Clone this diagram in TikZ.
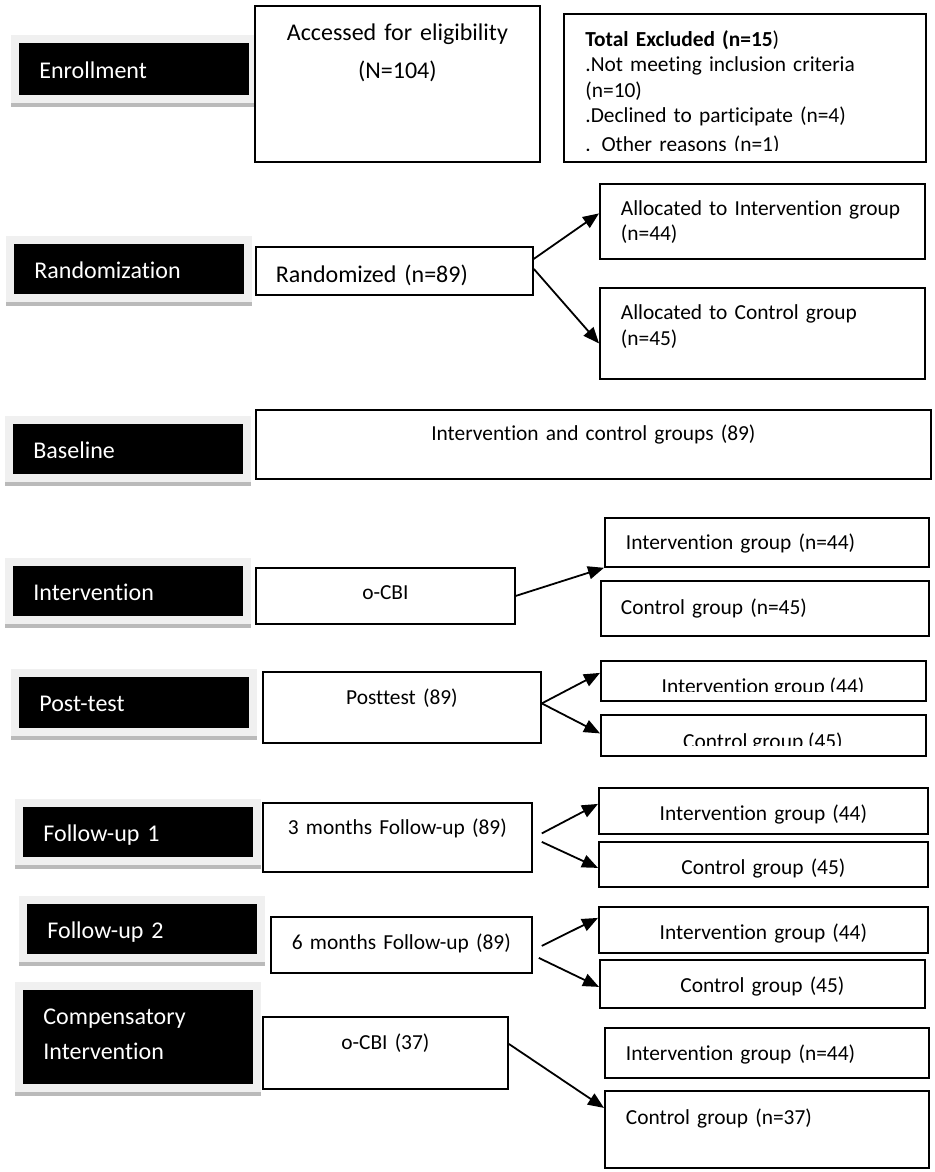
\documentclass[tikz,border=0pt]{standalone}
\usepackage{fontspec}
\setmainfont{Carlito}[Ligatures=NoCommon]
\usetikzlibrary{arrows.meta}

\tikzset{
  phase/.style={fill=black, text=white, anchor=north west, inner xsep=10pt, inner ysep=0pt,
    text width=95pt, align=left, text height=17pt, text depth=8pt,
    preaction={draw=black!27, line width=8pt, transform canvas={yshift=-2pt}},
    preaction={draw=black!6, line width=8pt}},
  stepbox/.style={draw=black, fill=white, line width=0.9pt, anchor=north west, inner ysep=0pt},
  small/.style={font=\fontsize{10.7}{13}\selectfont},
  flow/.style={-{Triangle[length=8pt,width=6.5pt]}, line width=0.9pt},
}

\begin{document}
\begin{tikzpicture}[x=0.5pt, y=-0.5pt, font=\fontsize{12}{14.4}\selectfont]
        \useasboundingbox (0,0) rectangle (935,1172);

        % phases
        \node[phase, text height=17.5pt, text depth=8.5pt] (enrol) at (19,43) {Enrollment};
        \node[phase] (randomize) at (14,244) {Randomization};
        \node[phase] (baseline) at (13,424) {Baseline};
        \node[phase] (intervene) at (13,566) {Intervention};
        \node[phase, text depth=8.5pt] (posttest) at (19,677) {Post-test};
        \node[phase] (followA) at (23,807) {Follow-up 1};
        \node[phase] (followB) at (27,904) {Follow-up 2};
        \node[phase, text depth=30pt, font=\fontsize{12}{17.5}\selectfont] (compens) at (23,990) {Compensatory\\Intervention};

        % enrollment
        \node[stepbox, text width=142.5pt, inner xsep=0pt, align=center, text height=17.5pt, text depth=60.5pt,
              font=\fontsize{12}{19}\selectfont] (accessed) at (254,5) {Accessed for eligibility\\(N=104)};
        \node[stepbox, minimum width=181pt, minimum height=74pt] (excluded) at (563,13) {};
        \begin{scope}
          \clip (565,15) rectangle (923,150.5);
          \node[anchor=north west, inner sep=0pt, text width=165pt, align=left, text height=16.5pt,
                font=\fontsize{10.7}{12.7}\selectfont] (exclnote) at (585,13)
                {\textbf{Total Excluded (n=15})\\.Not meeting inclusion criteria\\(n=10)\\.Declined to participate (n=4)\\[1.5pt]. Other reasons (n=1)};
        \end{scope}

        % randomization
        \node[stepbox, text width=118.5pt, inner xsep=10pt, align=left, text height=18pt, text depth=6pt] (randomized) at (255,246) {Randomized (n=89)};
        \node[stepbox, text width=141.5pt, inner xsep=10.5pt, align=left, text height=16pt, text depth=21.5pt,
              font=\fontsize{10.7}{12.5}\selectfont] (allocInt) at (599,183) {\mbox{Allocated to Intervention group}\\(n=44)};
        \node[stepbox, text width=141.5pt, inner xsep=10.5pt, align=left, text height=16pt, text depth=29.5pt,
              font=\fontsize{10.7}{13}\selectfont] (allocCtl) at (599,287) {Allocated to Control group\\(n=45)};

        % baseline
        \node[stepbox, small, text width=337.5pt, inner xsep=0pt, align=center, text height=15.5pt, text depth=19pt] (groups) at (255,409) {Intervention and control groups (89)};

        % intervention
        \node[stepbox, small, text width=129.5pt, inner xsep=0pt, align=center, text height=16pt, text depth=12pt] (ocbi) at (255,567) {o-CBI};
        \node[stepbox, small, text width=141pt, inner xsep=10.5pt, align=left, text height=16pt, text depth=8.5pt] (intA) at (604,517) {Intervention group (n=44)};
        \node[stepbox, small, text width=144pt, inner xsep=10pt, align=left, text height=17pt, text depth=10.5pt] (ctlA) at (600,580) {Control group (n=45)};

        % post-test
        \node[stepbox, small, text width=139pt, inner xsep=0pt, align=center, text height=16.5pt, text depth=19pt] (postall) at (262,671) {Posttest (89)};
        \node[stepbox, minimum width=162.5pt, minimum height=20pt] (intB) at (600,660) {};
        \node[stepbox, minimum width=162.5pt, minimum height=20.5pt] (ctlB) at (600,714) {};
        \begin{scope}
          \clip (602,662) rectangle (924,691);
          \node[small, anchor=base] (intBnote) at (763,693) {Intervention group (44)};
        \end{scope}
        \begin{scope}
          \clip (602,716) rectangle (924,745.5);
          \node[small, anchor=base] (ctlBnote) at (763,748) {Control group (45)};
        \end{scope}

        % follow-up 1
        \node[stepbox, small, text width=134.5pt, inner xsep=0pt, align=center, text height=16pt, text depth=18.5pt] (threemo) at (262,802) {3 months Follow-up (89)};
        \node[stepbox, small, text width=164.5pt, inner xsep=0pt, align=center, text height=16.5pt, text depth=6.5pt] (intC) at (598,787) {Intervention group (44)};
        \node[stepbox, small, text width=164.5pt, inner xsep=0pt, align=center, text height=16.5pt, text depth=6pt] (ctlC) at (598,841) {Control group (45)};

        % follow-up 2
        \node[stepbox, small, text width=130.5pt, inner xsep=0pt, align=center, text height=16.5pt, text depth=11.5pt] (sixmo) at (270,916) {6 months Follow-up (89)};
        \node[stepbox, small, text width=164.5pt, inner xsep=0pt, align=center, text height=16.5pt, text depth=6.5pt] (intD) at (598,906) {Intervention group (44)};
        \node[stepbox, small, text width=162.5pt, inner xsep=0pt, align=center, text height=16.5pt, text depth=7.5pt] (ctlD) at (599,959) {Control group (45)};

        % compensatory
        \node[stepbox, small, text width=122.5pt, inner xsep=0pt, align=center, text height=16.5pt, text depth=19.5pt] (ocbiB) at (262,1016) {o-CBI (37)};
        \node[stepbox, small, text width=141pt, inner xsep=10.5pt, align=left, text height=16.5pt, text depth=8.5pt] (intE) at (604,1027) {Intervention group (n=44)};
        \node[stepbox, small, text width=141pt, inner xsep=10.5pt, align=left, text height=17pt, text depth=21.5pt] (ctlE) at (604,1090) {Control group (n=37)};

        \draw[flow] ([shift={(0,-12)}]randomized.east) -- ([shift={(0,-8)}]allocInt.west);
        \draw[flow] ([shift={(0,-2)}]randomized.east) -- ([shift={(0,10)}]allocCtl.west);
        \draw[flow] (ocbi.east) -- (intA.south west);
        \draw[flow] ([shift={(0,-4)}]postall.east) -- ([shift={(0,-8)}]intB.west);
        \draw[flow] ([shift={(0,-4)}]postall.east) -- ([shift={(0,-2)}]ctlB.west);
        \draw[flow] ([shift={(9,-4)}]threemo.east) -- ([shift={(0,-7)}]intC.west);
        \draw[flow] ([shift={(9,4.5)}]threemo.east) -- ([shift={(0,3.5)}]ctlC.west);
        \draw[flow] ([shift={(9,1)}]sixmo.east) -- ([shift={(0,-12)}]intD.west);
        \draw[flow] ([shift={(6,13)}]sixmo.east) -- ([shift={(0,3)}]ctlD.west);
        \draw[flow] ([shift={(0,-9)}]ocbiB.east) -- ([shift={(0,-21.5)}]ctlE.west);
    \end{tikzpicture}
\end{document}
